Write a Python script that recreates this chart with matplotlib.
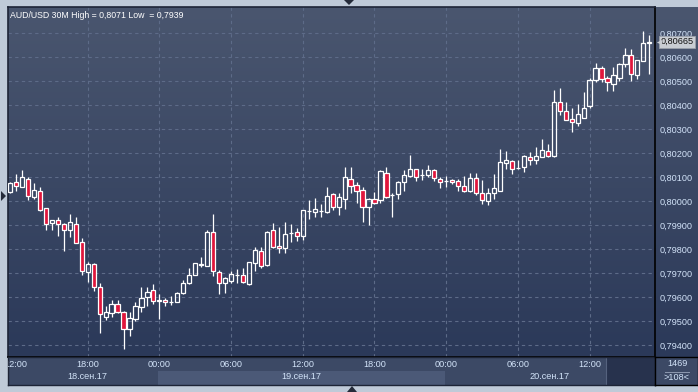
import numpy as np
import matplotlib
matplotlib.use("Agg")
import matplotlib.pyplot as plt
from matplotlib.colors import LinearSegmentedColormap
from matplotlib.patches import Polygon

plt.rcParams['font.family'] = ['Liberation Sans', 'DejaVu Sans']

# =====================================================
# DATA  (AUD/USD, 30 minute bars, 18.09.17 11:30 -> 20.09.17 17:00)
# =====================================================
opens = [0.80040, 0.80079, 0.80061, 0.80093, 0.80019, 0.80041, 0.79971, 0.79908, 0.79921, 0.79904,
         0.79882, 0.79904, 0.79830, 0.79704, 0.79739, 0.79643, 0.79519, 0.79533, 0.79571, 0.79539,
         0.79466, 0.79511, 0.79561, 0.79603, 0.79629, 0.79586, 0.79589, 0.79579, 0.79582, 0.79619,
         0.79658, 0.79694, 0.79740, 0.79730, 0.79872, 0.79704, 0.79661, 0.79669, 0.79691, 0.79691,
         0.79655, 0.79741, 0.79793, 0.79736, 0.79879, 0.79812, 0.79804, 0.79867, 0.79871, 0.79857,
         0.79961, 0.79957, 0.79960, 0.79957, 0.80029, 0.79978, 0.80008, 0.80091, 0.80068, 0.80046,
         0.79978, 0.80008, 0.80005, 0.80116, 0.80026, 0.80029, 0.80079, 0.80107, 0.80133, 0.80111,
         0.80111, 0.80129, 0.80091, 0.80083, 0.80087, 0.80083, 0.80062, 0.80044, 0.80099, 0.80035,
         0.80002, 0.80033, 0.80044, 0.80161, 0.80166, 0.80140, 0.80141, 0.80184, 0.80174, 0.80183,
         0.80209, 0.80188, 0.80413, 0.80377, 0.80342, 0.80327, 0.80348, 0.80397, 0.80505, 0.80554,
         0.80512, 0.80491, 0.80515, 0.80574, 0.80609, 0.80526, 0.80585, 0.80662]
highs = [0.80082, 0.80114, 0.80130, 0.80103, 0.80075, 0.80058, 0.79971, 0.79922, 0.79933, 0.79908,
         0.79947, 0.79933, 0.79846, 0.79748, 0.79741, 0.79661, 0.79564, 0.79589, 0.79589, 0.79544,
         0.79540, 0.79582, 0.79644, 0.79644, 0.79655, 0.79614, 0.79598, 0.79605, 0.79622, 0.79672,
         0.79722, 0.79741, 0.79766, 0.79880, 0.79947, 0.79714, 0.79686, 0.79711, 0.79718, 0.79722,
         0.79746, 0.79808, 0.79808, 0.79878, 0.79908, 0.79891, 0.79914, 0.79904, 0.79887, 0.79962,
         0.80005, 0.80014, 0.79989, 0.80060, 0.80036, 0.80033, 0.80144, 0.80144, 0.80080, 0.80058,
         0.80012, 0.80040, 0.80130, 0.80141, 0.80033, 0.80084, 0.80130, 0.80195, 0.80135, 0.80135,
         0.80151, 0.80133, 0.80102, 0.80105, 0.80091, 0.80091, 0.80105, 0.80116, 0.80116, 0.80088,
         0.80054, 0.80113, 0.80217, 0.80209, 0.80174, 0.80174, 0.80192, 0.80205, 0.80227, 0.80259,
         0.80238, 0.80463, 0.80474, 0.80415, 0.80390, 0.80405, 0.80456, 0.80516, 0.80577, 0.80563,
         0.80523, 0.80560, 0.80577, 0.80641, 0.80637, 0.80591, 0.80709, 0.80693]
lows = [0.80033, 0.80044, 0.80061, 0.80005, 0.80010, 0.79961, 0.79880, 0.79880, 0.79855, 0.79794,
        0.79853, 0.79828, 0.79693, 0.79665, 0.79628, 0.79453, 0.79505, 0.79519, 0.79533, 0.79386,
        0.79439, 0.79503, 0.79540, 0.79564, 0.79572, 0.79511, 0.79565, 0.79567, 0.79579, 0.79614,
        0.79655, 0.79691, 0.79728, 0.79730, 0.79689, 0.79614, 0.79619, 0.79661, 0.79661, 0.79658,
        0.79651, 0.79711, 0.79721, 0.79730, 0.79804, 0.79783, 0.79783, 0.79832, 0.79836, 0.79839,
        0.79928, 0.79936, 0.79936, 0.79953, 0.79964, 0.79943, 0.79968, 0.80036, 0.79994, 0.79914,
        0.79901, 0.79989, 0.79994, 0.80015, 0.79936, 0.80010, 0.80044, 0.80100, 0.80086, 0.80089,
        0.80102, 0.80086, 0.80054, 0.80061, 0.80074, 0.80044, 0.80040, 0.80040, 0.80027, 0.79988,
        0.79984, 0.80009, 0.80044, 0.80134, 0.80113, 0.80136, 0.80123, 0.80151, 0.80155, 0.80183,
        0.80186, 0.80186, 0.80359, 0.80338, 0.80290, 0.80313, 0.80348, 0.80387, 0.80498, 0.80498,
        0.80461, 0.80459, 0.80501, 0.80560, 0.80501, 0.80510, 0.80585, 0.80530]
closes = [0.80075, 0.80064, 0.80100, 0.80022, 0.80047, 0.79964, 0.79904, 0.79921, 0.79904, 0.79879,
          0.79914, 0.79828, 0.79708, 0.79737, 0.79641, 0.79529, 0.79537, 0.79572, 0.79537, 0.79466,
          0.79512, 0.79564, 0.79597, 0.79622, 0.79583, 0.79587, 0.79579, 0.79580, 0.79619, 0.79658,
          0.79691, 0.79741, 0.79733, 0.79872, 0.79709, 0.79659, 0.79679, 0.79696, 0.79692, 0.79662,
          0.79746, 0.79797, 0.79732, 0.79872, 0.79809, 0.79804, 0.79862, 0.79868, 0.79854, 0.79962,
          0.79961, 0.79966, 0.79961, 0.80022, 0.79978, 0.80016, 0.80100, 0.80065, 0.80044, 0.79978,
          0.80010, 0.79994, 0.80125, 0.80019, 0.80027, 0.80079, 0.80109, 0.80133, 0.80103, 0.80111,
          0.80129, 0.80099, 0.80079, 0.80083, 0.80079, 0.80063, 0.80045, 0.80099, 0.80035, 0.80005,
          0.80033, 0.80054, 0.80162, 0.80174, 0.80136, 0.80140, 0.80188, 0.80174, 0.80188, 0.80213,
          0.80190, 0.80415, 0.80377, 0.80338, 0.80329, 0.80362, 0.80391, 0.80505, 0.80554, 0.80509,
          0.80498, 0.80526, 0.80574, 0.80609, 0.80529, 0.80591, 0.80662, 0.80665]

price_ticks = [0.794, 0.795, 0.796, 0.797, 0.798, 0.799, 0.800,
               0.801, 0.802, 0.803, 0.804, 0.805, 0.806, 0.807]
time_tick_idx = [1, 13, 25, 37, 49, 61, 73, 85, 97]
time_tick_labels = ["12:00", "18:00", "00:00", "06:00", "12:00",
                    "18:00", "00:00", "06:00", "12:00"]
day_start_idx = [25, 73]
date_labels = ["18.сен.17", "19.сен.17", "20.сен.17"]
title = "AUD/USD 30M High = 0,8071 Low  = 0,7939"
last_price = 0.80665
bars_total = 1469
bars_visible = 108

# =====================================================
# STYLE
# =====================================================
W, H = 698, 392
FRAME = "#bfcad8"
BG_TOP = "#4a566f"
BG_BOTTOM = "#2b3959"
GRID = "#5d6b88"
RED = "#e0163c"
LABEL = "#d2e3f8"
PANEL = "#3c4965"
PANEL_LIGHT = "#4b5977"
PANEL_DARK = "#27324d"
FS = 6.6


def fmt(v, nd=5):
    return f"{v:.{nd}f}".replace(".", ",")


fig = plt.figure(figsize=(W / 100, H / 100), dpi=100)
fig.patch.set_facecolor(FRAME)


def px_axes(x0, y0, x1, y1):
    return fig.add_axes([x0 / W, 1 - y1 / H, (x1 - x0) / W, (y1 - y0) / H])


def px(x, y):
    return (x / W, 1 - y / H)


# ---- gradient background (plot + price scale) ----
bg = px_axes(8, 7, 698, 357)
grad = np.linspace(0, 1, 256).reshape(-1, 1)
cmap = LinearSegmentedColormap.from_list("bg", [BG_TOP, BG_BOTTOM])
bg.imshow(grad, aspect="auto", cmap=cmap, extent=[0, 1, 0, 1], origin="upper")
bg.set_axis_off()

# ---- main plot ----
ax = px_axes(8, 7, 655, 357)
ax.set_facecolor("none")
xlim = (-0.335, 107.95)
ax.set_xlim(xlim)
ax.set_ylim(0.79351, 0.80810)

ax.set_yticks(price_ticks)
ax.set_yticklabels([fmt(v) for v in price_ticks])
ax.set_xticks(time_tick_idx[1:])
ax.grid(True, color=GRID, linestyle=(0, (3, 3)), linewidth=0.8)
ax.tick_params(axis="x", bottom=False, labelbottom=False)
ax.tick_params(axis="y", left=False, labelleft=False, right=False, labelright=True,
               length=0, pad=3.5, labelsize=FS, labelcolor=LABEL)
for s in ["top", "left"]:
    ax.spines[s].set_color("#1d2436")
for s in ["right", "bottom"]:
    ax.spines[s].set_color("#000000")
for s in ax.spines.values():
    s.set_linewidth(1.2)

o = np.array(opens)
h = np.array(highs)
l = np.array(lows)
c = np.array(closes)
idx = np.arange(len(o))
body_lo = np.minimum(o, c)
body_hi = np.maximum(o, c)
up = c >= o

ax.vlines(idx, body_hi, h, color="white", linewidth=0.9, zorder=3)
ax.vlines(idx, l, body_lo, color="white", linewidth=0.9, zorder=3)
ax.bar(idx[up], (body_hi - body_lo)[up], bottom=body_lo[up], width=0.7,
       facecolor="none", edgecolor="white", linewidth=0.9, zorder=4)
ax.bar(idx[~up], (body_hi - body_lo)[~up], bottom=body_lo[~up], width=0.7,
       facecolor=RED, edgecolor="white", linewidth=0.9, zorder=4)

ax.text(0.003, 0.977, title, transform=ax.transAxes, color="white",
        fontsize=6.3, ha="left", va="center")

# current price tag
ytf = ax.get_yaxis_transform()
ax.text(1 + 5.5 / 647, last_price, fmt(last_price), transform=ytf, color="#111111",
        fontsize=FS, ha="left", va="center", clip_on=False, zorder=6,
        bbox=dict(boxstyle="square,pad=0.15", facecolor="#c9cdd3", edgecolor="#9aa0aa",
                  linewidth=0.6))
ax.scatter([1 + 3.5 / 647], [last_price], transform=ytf, marker="<", s=14,
           color="#c9cdd3", clip_on=False, zorder=6, linewidths=0)

# ---- time axis panel ----
xa = px_axes(8, 357, 655, 385)
xa.set_xlim(xlim)
xa.set_ylim(0, 1)
xa.set_facecolor(PANEL)
xa.set_xticks([])
xa.set_yticks([])
for s in xa.spines.values():
    s.set_color("#1d2436")
    s.set_linewidth(1.0)

bounds = [xlim[0] + 1.5] + [d - 0.25 for d in day_start_idx] + [xlim[1]]
for i, lab in enumerate(date_labels):
    if i % 2 == 1:
        xa.axvspan(bounds[i], bounds[i + 1], 0, 0.5, color=PANEL_LIGHT, linewidth=0)
    xa.text((bounds[i] + bounds[i + 1]) / 2, 0.30, lab, color=LABEL, fontsize=FS,
            ha="center", va="center", clip_on=True)
xa.axvspan(99.75, xlim[1], color=PANEL_DARK, linewidth=0)
xa.axvline(99.75, color="#55627e", linewidth=0.8)
for x, lab in zip(time_tick_idx, time_tick_labels):
    xa.text(x, 0.73, lab, color=LABEL, fontsize=FS, ha="center", va="center",
            clip_on=True)

# ---- bars counter box ----
br = px_axes(655, 357, 698, 385)
br.set_xlim(0, 1)
br.set_ylim(0, 1)
br.set_facecolor(PANEL)
br.set_xticks([])
br.set_yticks([])
for s in br.spines.values():
    s.set_color("#000000")
    s.set_linewidth(1.0)
br.text(0.52, 0.76, str(bars_total), color=LABEL, fontsize=FS, ha="center", va="center")
br.plot([0.23, 0.79], [0.48, 0.48], color="#8d99b0", linewidth=0.7)
br.text(0.5, 0.25, f">{bars_visible}<", color=LABEL, fontsize=FS, ha="center", va="center")

# ---- scroll arrows on the frame ----
for pts in ([(344, 0), (354, 0), (349, 5)],
            [(347, 392), (357, 392), (352, 386)],
            [(1, 191), (1, 201), (6, 196)]):
    fig.patches.append(Polygon([px(*p) for p in pts], closed=True,
                               transform=fig.transFigure, facecolor="#252b3a",
                               edgecolor="none"))

fig.savefig("out.png", dpi=100, facecolor=fig.get_facecolor())
